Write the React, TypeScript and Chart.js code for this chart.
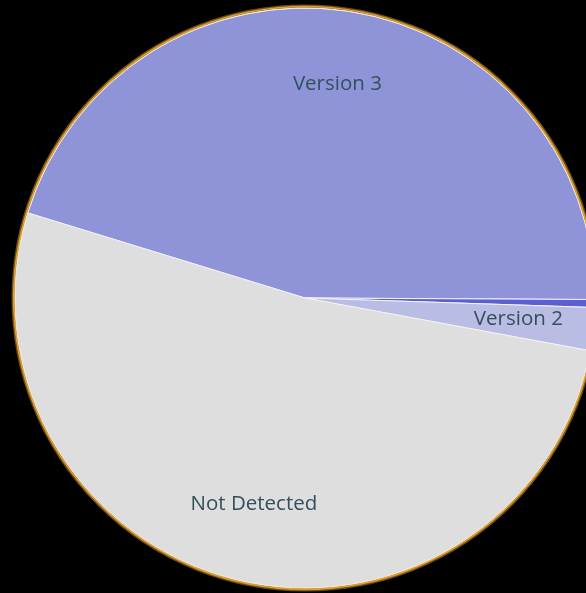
import React, { useEffect, useRef } from "react";
import { Chart, registerables } from "chart.js";

Chart.register(...registerables);

const categories: string[] = ["Version 3", "Version 1", "Version 2", "Not Detected"];
const shares: number[] = [45.34, 0.44, 2.39, 51.82];
const sliceColors: string[] = ["#8f94d8", "#5b60d0", "#babde3", "#dedede"];

const labelPlugin = {
  id: "sliceLabels",
  afterDatasetsDraw(chart: any) {
    const ctx = chart.ctx;
    const meta = chart.getDatasetMeta(0);
    if (!meta.data.length) return;
    const first = meta.data[0];
    const { x, y, outerRadius } = first.getProps(["x", "y", "outerRadius"], true);
    // outer ring
    ctx.save();
    ctx.beginPath();
    ctx.arc(x, y, outerRadius + 2.8, 0, Math.PI * 2);
    ctx.strokeStyle = "#6a4e1a";
    ctx.lineWidth = 1.4;
    ctx.stroke();
    ctx.beginPath();
    ctx.arc(x, y, outerRadius + 1.3, 0, Math.PI * 2);
    ctx.strokeStyle = "#e09c2c";
    ctx.lineWidth = 1.8;
    ctx.stroke();
    ctx.beginPath();
    ctx.arc(x, y, outerRadius, 0, Math.PI * 2);
    ctx.strokeStyle = "#f3e6c4";
    ctx.lineWidth = 0.9;
    ctx.stroke();
    ctx.restore();

    ctx.save();
    ctx.font = '20.5px "Open Sans", sans-serif';
    ctx.fillStyle = "#32505c";
    ctx.textAlign = "center";
    ctx.textBaseline = "middle";
    meta.data.forEach((arc: any, i: number) => {
      const p = arc.getProps(["x", "y", "startAngle", "endAngle", "outerRadius"], true);
      if (p.endAngle - p.startAngle < 0.1) return;
      const mid = (p.startAngle + p.endAngle) / 2;
      const r = p.outerRadius * 0.74;
      ctx.fillText(categories[i], p.x + Math.cos(mid) * r, p.y + Math.sin(mid) * r - 2);
    });
    ctx.restore();
  },
};

export default function App() {
  const ref = useRef<HTMLCanvasElement | null>(null);
  useEffect(() => {
    document.body.style.margin = "0";
    document.body.style.background = "#000";
    const canvas = ref.current;
    if (!canvas) return;
    const chart = new Chart(canvas, {
      type: "pie",
      data: {
        labels: categories,
        datasets: [
          {
            data: shares,
            backgroundColor: sliceColors,
            borderColor: "#f4f4f8",
            borderWidth: 1,
          },
        ],
      },
      options: {
        responsive: false,
        animation: false,
        devicePixelRatio: 1,
        rotation: 287.06,
        radius: 290,
        layout: { padding: 0 },
        plugins: {
          legend: { display: false },
          tooltip: { enabled: false },
        },
      },
      plugins: [labelPlugin],
    });
    return () => chart.destroy();
  }, []);
  return (
    <div style={{ width: 586, height: 593, overflow: "hidden", position: "relative", background: "#000" }}>
      <canvas ref={ref} width={610} height={596} style={{ position: "absolute", left: 0, top: 0, width: 610, height: 596 }} />
    </div>
  );
}
